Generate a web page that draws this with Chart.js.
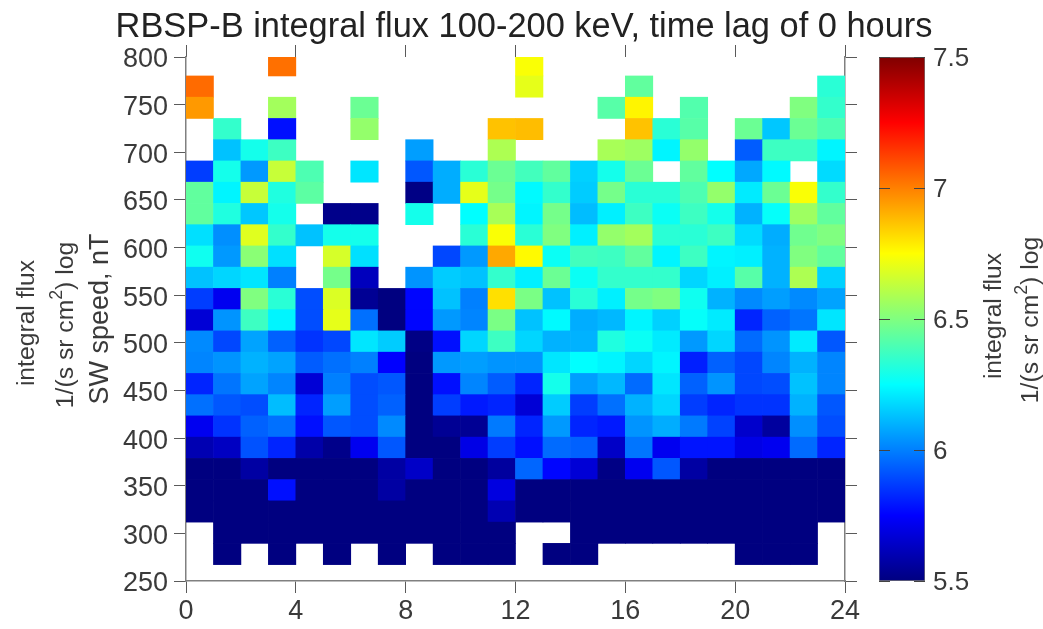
<!DOCTYPE html>
<html>
<head>
<meta charset="utf-8">
<script src="https://cdn.jsdelivr.net/npm/chart.js@4"></script>
<style>
    html, body { margin: 0; padding: 0; background: #fff; overflow: hidden; }
    canvas { position: absolute; top: 0; filter: blur(0.5px); }
    #heatChart { left: 0; }
    #barChart { left: 870px; }
</style>
</head>
<body>
<canvas id="heatChart" width="1043" height="629"></canvas>
<canvas id="barChart" width="173" height="629"></canvas>
<script>
const n = null;

const hourTicks = [0, 4, 8, 12, 16, 20, 24];
const speedTicks = [250, 300, 350, 400, 450, 500, 550, 600, 650, 700, 750, 800];
const fluxTicks = [5.5, 6, 6.5, 7, 7.5];
const fluxRange = [5.5, 7.5];

// one column per hour of local time, 0-1 ... 23-24
const hours = [0.5, 1.5, 2.5, 3.5, 4.5, 5.5, 6.5, 7.5, 8.5, 9.5, 10.5, 11.5, 12.5, 13.5, 14.5, 15.5, 16.5, 17.5, 18.5, 19.5, 20.5, 21.5, 22.5, 23.5];

// edges of the speed bins, bottom to top
const speedEdges = [267.2, 289.5, 311.8, 334.1, 356.4, 378.7, 401, 423.3, 445.6, 467.9, 490.2, 512.5, 534.8, 557.1, 579.4, 601.7, 624, 646.3, 668.6, 690.9, 713.2, 735.5, 757.8, 780.1, 802.4];

// log flux read from the colours, bottom row first, null = no data
const flux267 = [n, 5.5, n, 5.5, n, 5.5, n, 5.5, n, 5.5, 5.5, 5.5, n, 5.5, 5.5, n, n, n, n, n, 5.5, 5.5, 5.5, n];
const flux290 = [n, 5.5, 5.5, 5.5, 5.5, 5.5, 5.5, 5.5, 5.5, 5.5, 5.5, 5.5, n, n, 5.5, 5.5, 5.5, 5.5, 5.5, 5.5, 5.5, 5.5, 5.5, n];
const flux312 = [5.5, 5.5, 5.5, 5.5, 5.5, 5.5, 5.5, 5.5, 5.5, 5.5, 5.5, 5.6, 5.5, 5.5, 5.5, 5.5, 5.5, 5.5, 5.5, 5.5, 5.5, 5.5, 5.5, 5.5];
const flux334 = [5.5, 5.5, 5.5, 5.78, 5.5, 5.5, 5.5, 5.57, 5.5, 5.5, 5.5, 5.69, 5.5, 5.5, 5.5, 5.5, 5.5, 5.5, 5.5, 5.5, 5.5, 5.5, 5.5, 5.5];
const flux356 = [5.5, 5.5, 5.57, 5.5, 5.5, 5.5, 5.5, 5.57, 5.64, 5.5, 5.5, 5.56, 5.95, 5.76, 5.67, 5.51, 5.72, 5.92, 5.57, 5.5, 5.5, 5.5, 5.5, 5.5];
const flux379 = [5.6, 5.63, 5.91, 5.82, 5.58, 5.52, 5.72, 5.92, 5.5, 5.5, 5.7, 5.87, 5.78, 5.96, 5.94, 5.64, 5.98, 5.72, 5.79, 5.79, 5.7, 5.72, 5.96, 5.82];
const flux401 = [5.72, 5.85, 5.94, 5.97, 5.78, 5.92, 5.9, 6.02, 5.5, 5.54, 5.54, 5.99, 5.82, 6.05, 5.82, 5.8, 6.04, 6.09, 5.99, 5.88, 5.65, 5.56, 6.03, 5.9];
const flux423 = [5.97, 5.92, 5.9, 6.12, 5.82, 6.06, 5.9, 5.94, 5.5, 5.87, 5.8, 5.82, 5.67, 6.15, 5.87, 5.97, 6.1, 6.17, 5.87, 5.82, 5.85, 5.85, 6.1, 5.92];
const flux446 = [5.82, 5.98, 6.07, 6.01, 5.67, 6, 5.9, 5.92, 5.5, 5.78, 6.01, 5.93, 5.82, 6.29, 6.06, 6.11, 5.96, 6.2, 5.94, 6.04, 5.89, 5.9, 6.13, 6.01];
const flux468 = [6.01, 6.04, 6.1, 6.07, 5.93, 5.97, 6, 5.75, 5.5, 6.05, 6.06, 6.04, 6.04, 6.2, 6.25, 6.23, 6.17, 6.23, 5.81, 5.94, 5.89, 6.01, 6.1, 6.01];
const flux490 = [6.02, 5.89, 6.07, 5.94, 5.85, 5.89, 6.2, 6.15, 5.51, 5.78, 6.17, 6.37, 6.17, 6.1, 6.1, 6.31, 6.27, 6.21, 6.05, 6.17, 5.96, 6.04, 6.21, 5.92];
const flux513 = [5.67, 6.04, 6.37, 6.23, 5.9, 6.7, 5.97, 5.5, 5.76, 6.05, 6.01, 6.49, 6.13, 6.24, 6.09, 6.11, 6.23, 6.16, 6.26, 6.21, 5.82, 5.94, 5.98, 6.2];
const flux535 = [5.87, 5.72, 6.5, 6.33, 5.9, 6.68, 5.54, 5.5, 5.76, 6.13, 6, 6.81, 6.49, 6.13, 6.33, 6.22, 6.48, 6.5, 6.28, 6.1, 6.02, 6.06, 6.02, 6.07];
const flux557 = [6.13, 6.17, 6.2, 6, n, 6.48, 5.62, n, 6.04, 6.15, 6.13, 6.35, 6.22, 6.46, 6.27, 6.35, 6.35, 6.35, 6.17, 6.22, 6.42, 6.1, 6.59, 6.16];
const flux579 = [6.28, 6.05, 6.52, 6.19, n, 6.67, 6.19, n, n, 5.89, 6.05, 6.92, 6.76, 6.27, 6.38, 6.37, 6.44, 6.23, 6.37, 6.23, 6.22, 6.1, 6.5, 6.44];
const flux602 = [6.19, 6.03, 6.69, 6.35, 6.13, 6.29, 6.29, n, n, n, 6.33, 6.74, 6.33, 6.5, 6.22, 6.54, 6.57, 6.33, 6.33, 6.37, 6.18, 6.09, 6.47, 6.5];
const flux624 = [6.44, 6.31, 6.14, 6.29, n, 5.52, 5.52, n, 6.29, n, 6.25, 6.58, 6.23, 6.48, 6.12, 6.22, 6.37, 6.27, 6.37, 6.29, 6.1, 6.26, 6.56, 6.44];
const flux646 = [6.44, 6.23, 6.64, 6.31, 6.43, n, n, n, 5.51, 6.09, 6.7, 6.48, 6.24, 6.35, 6.15, 6.48, 6.33, 6.33, 6.4, 6.54, 6.21, 6.46, 6.74, 6.35];
const flux669 = [5.87, 6.29, 6.05, 6.64, 6.4, n, 6.2, n, 5.92, 6.09, 6.33, 6.46, 6.38, 6.44, 6.16, 6.29, 6.46, n, 6.44, 6.25, 6.08, 6.24, n, 6.18];
const flux691 = [n, 6.13, 6.29, 6.37, n, n, n, n, 6.06, n, n, 6.59, n, n, n, 6.58, 6.56, 6.23, 6.54, n, 5.93, 6.37, 6.37, 6.23];
const flux713 = [n, 6.35, n, 5.78, n, n, 6.54, n, n, n, n, 6.87, 6.88, n, n, n, 6.87, 6.33, 6.42, n, 6.46, 6.14, 6.46, 6.4];
const flux736 = [6.95, n, n, 6.57, n, n, 6.46, n, n, n, n, n, n, n, n, 6.42, 6.77, n, 6.41, n, n, n, 6.5, 6.35];
const flux758 = [7.04, n, n, n, n, n, n, n, n, n, n, n, 6.7, n, n, n, 6.44, n, n, n, n, n, n, 6.33];
const flux780 = [n, n, n, 7.03, n, n, n, n, n, n, n, n, 6.74, n, n, n, n, n, n, n, n, n, n, n];

const fluxRows = [flux267, flux290, flux312, flux334, flux356, flux379, flux401, flux423, flux446, flux468, flux490, flux513,
    flux535, flux557, flux579, flux602, flux624, flux646, flux669, flux691, flux713, flux736, flux758, flux780];

const axisColor = '#808080';
const tickColor = '#5a5a5a';
const textColor = '#3a3a3a';
const fontName = '"Liberation Sans", Arial, sans-serif';

// jet colormap, t in 0..1
function jet(t) {
    const part = c => Math.round(255 * Math.max(0, Math.min(1, 1.5 - Math.abs(4 * t - c))));
    return 'rgb(' + part(3) + ',' + part(2) + ',' + part(1) + ')';
}

function fluxColor(value) {
    return jet((value - fluxRange[0]) / (fluxRange[1] - fluxRange[0]));
}

// Draw text turned 90 degrees, centred on x, y
function drawTurned(ctx, parts, x, y) {
    ctx.save();
    ctx.translate(x, y);
    ctx.rotate(-Math.PI / 2);
    ctx.textBaseline = 'alphabetic';
    ctx.textAlign = 'left';
    let total = 0;
    parts.forEach(p => {
        ctx.font = p.size + 'px ' + fontName;
        total += ctx.measureText(p.text).width;
    });
    let pos = -total / 2;
    parts.forEach(p => {
        ctx.font = p.size + 'px ' + fontName;
        ctx.fillStyle = textColor;
        ctx.fillText(p.text, pos, p.raise ? -p.raise : 0);
        pos += ctx.measureText(p.text).width;
    });
    ctx.restore();
}

function fluxUnit(size) {
    return [
        { text: '1/(s sr cm', size: size },
        { text: '2', size: size * 0.72, raise: 11 },
        { text: ') log', size: size }
    ];
}

const textPlugin = {
    id: 'heatTexts',
    afterDraw(chart) {
        const ctx = chart.ctx;
        ctx.save();
        ctx.font = '34.4px ' + fontName;
        ctx.fillStyle = '#222';
        ctx.textAlign = 'center';
        ctx.textBaseline = 'alphabetic';
        ctx.fillText('RBSP-B integral flux 100-200 keV, time lag of 0 hours', 524, 37);
        ctx.restore();
        drawTurned(ctx, [{ text: 'integral flux', size: 24.7 }], 34, 323);
        drawTurned(ctx, fluxUnit(24.7), 73, 325);
        drawTurned(ctx, [{ text: 'SW speed, nT', size: 27 }], 108, 319);
        drawTurned(ctx, [{ text: 'integral flux', size: 24.7 }], 1001, 316);
        drawTurned(ctx, fluxUnit(24.7), 1038, 320);
    }
};

// Short inner ticks on both sides of the colour bar
const barTicksPlugin = {
    id: 'barTicks',
    afterDatasetsDraw(chart) {
        const ctx = chart.ctx;
        const area = chart.chartArea;
        ctx.save();
        ctx.strokeStyle = '#444';
        ctx.lineWidth = 1;
        fluxTicks.forEach(value => {
            const y = Math.round(chart.scales.y.getPixelForValue(value)) + 0.5;
            ctx.beginPath();
            ctx.moveTo(area.left, y);
            ctx.lineTo(area.left + 11, y);
            ctx.moveTo(area.right - 11, y);
            ctx.lineTo(area.right, y);
            ctx.stroke();
        });
        ctx.restore();
    }
};

function buildDatasets() {
    return fluxRows.map((row, r) => {
        const cells = [];
        const colors = [];
        row.forEach((value, c) => {
            if (value === null) return;
            cells.push({ x: hours[c], y: [speedEdges[r], speedEdges[r + 1]] });
            colors.push(fluxColor(value));
        });
        return {
            data: cells,
            backgroundColor: colors,
            borderWidth: 0,
            grouped: false,
            barPercentage: 1,
            categoryPercentage: 1,
            xAxisID: 'x',
            yAxisID: 'y'
        };
    });
}

function fixedTicks(values) {
    return function(scale) {
        scale.ticks = values.map(v => ({ value: v }));
    };
}

function sideAxis(position, size, tickValues, range, showLabels, showBorder) {
    const horizontal = position === 'top' || position === 'bottom';
    return {
        type: 'linear',
        position: position,
        min: range[0],
        max: range[1],
        offset: false,
        afterBuildTicks: fixedTicks(tickValues),
        afterFit(scale) {
            // no room kept for the end labels, the plot area is fixed
            scale.paddingLeft = scale.paddingRight = scale.paddingTop = scale.paddingBottom = 0;
            if (horizontal) scale.height = size; else scale.width = size;
        },
        grid: { offset: false, drawOnChartArea: false, tickLength: 12, tickColor: tickColor, tickWidth: 1 },
        border: { display: showBorder, color: axisColor, width: 1.5 },
        ticks: {
            display: showLabels,
            autoSkip: false,
            maxRotation: 0,
            padding: horizontal ? 2 : 6,
            labelOffset: horizontal ? 0 : 3,
            color: textColor,
            font: { family: fontName, size: 27 }
        }
    };
}

const heatChart = new Chart(document.getElementById('heatChart').getContext('2d'), {
    type: 'bar',
    data: { datasets: buildDatasets() },
    options: {
        responsive: false,
        animation: false,
        layout: { autoPadding: false },
        plugins: { legend: { display: false }, tooltip: { enabled: false } },
        scales: {
            x: sideAxis('bottom', 48, hourTicks, [0, 24], true, true),
            xTop: sideAxis('top', 57, hourTicks, [0, 24], false, false),
            y: sideAxis('left', 186, speedTicks, [250, 800], true, true),
            yRight: sideAxis('right', 198, speedTicks, [250, 800], false, true)
        }
    },
    plugins: [textPlugin]
});

// Colour bar on its own small chart
const barChart = new Chart(document.getElementById('barChart').getContext('2d'), {
    type: 'bar',
    data: {
        labels: ['flux'],
        datasets: [{
            data: [fluxRange],
            borderWidth: 1,
            borderColor: '#777',
            borderSkipped: false,
            barPercentage: 1,
            categoryPercentage: 1,
            backgroundColor(context) {
                const area = context.chart.chartArea;
                if (!area) return '#000';
                const g = context.chart.ctx.createLinearGradient(0, area.bottom, 0, area.top);
                for (let i = 0; i <= 64; i++) {
                    g.addColorStop(i / 64, jet(i / 64));
                }
                return g;
            }
        }]
    },
    options: {
        responsive: false,
        animation: false,
        layout: { autoPadding: false, padding: { left: 9, top: 57, bottom: 48 } },
        plugins: { legend: { display: false }, tooltip: { enabled: false } },
        scales: {
            x: { display: false },
            y: {
                position: 'right',
                min: fluxRange[0],
                max: fluxRange[1],
                afterBuildTicks: fixedTicks(fluxTicks),
                afterFit(scale) { scale.width = 118; },
                grid: { display: false },
                border: { display: false },
                ticks: {
                    autoSkip: false,
                    padding: 0,
                    labelOffset: 2,
                    color: textColor,
                    font: { family: fontName, size: 26 },
                    callback: value => String(value)
                }
            }
        }
    },
    plugins: [barTicksPlugin]
});
</script>
</body>
</html>
